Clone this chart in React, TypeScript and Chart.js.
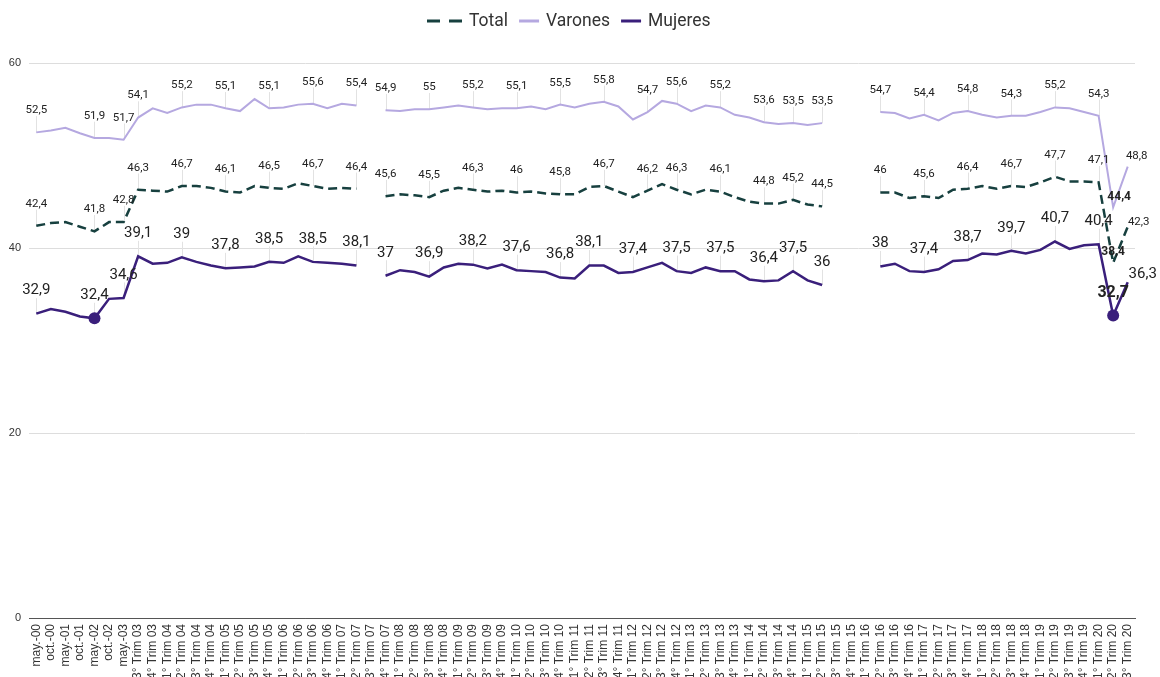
import React, { useEffect, useRef } from 'react';
import { Chart, registerables } from 'chart.js';

Chart.register(...registerables);

const categories = [
  'may.-00', 'oct.-00', 'may.-01', 'oct.-01', 'may.-02', 'oct.-02', 'may.-03',
  '3° Trim 03', '4° Trim 03',
  '1° Trim 04', '2° Trim 04', '3° Trim 04', '4° Trim 04',
  '1° Trim 05', '2° Trim 05', '3° Trim 05', '4° Trim 05',
  '1° Trim 06', '2° Trim 06', '3° Trim 06', '4° Trim 06',
  '1° Trim 07', '2° Trim 07', '3° Trim 07', '4° Trim 07',
  '1° Trim 08', '2° Trim 08', '3° Trim 08', '4° Trim 08',
  '1° Trim 09', '2° Trim 09', '3° Trim 09', '4° Trim 09',
  '1° Trim 10', '2° Trim 10', '3° Trim 10', '4° Trim 10',
  '1° Trim 11', '2° Trim 11', '3° Trim 11', '4° Trim 11',
  '1° Trim 12', '2° Trim 12', '3° Trim 12', '4° Trim 12',
  '1° Trim 13', '2° Trim 13', '3° Trim 13', '4° Trim 13',
  '1° Trim 14', '2° Trim 14', '3° Trim 14', '4° Trim 14',
  '1° Trim 15', '2° Trim 15', '3° Trim 15', '4° Trim 15',
  '1° Trim 16', '2° Trim 16', '3° Trim 16', '4° Trim 16',
  '1° Trim 17', '2° Trim 17', '3° Trim 17', '4° Trim 17',
  '1° Trim 18', '2° Trim 18', '3° Trim 18', '4° Trim 18',
  '1° Trim 19', '2° Trim 19', '3° Trim 19', '4° Trim 19',
  '1° Trim 20', '2° Trim 20', '3° Trim 20',
];

const total = [
  42.4, 42.7, 42.8, 42.3, 41.8, 42.8, 42.8,
  46.3, 46.2,
  46.1, 46.7, 46.7, 46.5,
  46.1, 46.0, 46.7, 46.5,
  46.4, 47.0, 46.7, 46.4,
  46.5, 46.4, null, 45.6,
  45.8, 45.7, 45.5, 46.2,
  46.5, 46.3, 46.1, 46.2,
  46.0, 46.1, 45.9, 45.8,
  45.8, 46.6, 46.7, 46.1,
  45.5, 46.2, 46.9, 46.3,
  45.8, 46.3, 46.1, 45.5,
  45.0, 44.8, 44.8, 45.2,
  44.7, 44.5, null, null,
  null, 46.0, 46.0, 45.4,
  45.6, 45.4, 46.3, 46.4,
  46.7, 46.4, 46.7, 46.6,
  47.1, 47.7, 47.2, 47.2,
  47.1, 38.4, 42.3,
];

const varones = [
  52.5, 52.7, 53.0, 52.4, 51.9, 51.9, 51.7,
  54.1, 55.1,
  54.6, 55.2, 55.5, 55.5,
  55.1, 54.8, 56.1, 55.1,
  55.2, 55.5, 55.6, 55.1,
  55.6, 55.4, null, 54.9,
  54.8, 55.0, 55.0, 55.2,
  55.4, 55.2, 55.0, 55.1,
  55.1, 55.3, 55.0, 55.5,
  55.2, 55.6, 55.8, 55.3,
  53.9, 54.7, 55.9, 55.6,
  54.8, 55.4, 55.2, 54.4,
  54.1, 53.6, 53.4, 53.5,
  53.3, 53.5, null, null,
  null, 54.7, 54.6, 54.0,
  54.4, 53.8, 54.6, 54.8,
  54.4, 54.1, 54.3, 54.3,
  54.7, 55.2, 55.1, 54.7,
  54.3, 44.4, 48.8,
];

const mujeres = [
  32.9, 33.4, 33.1, 32.6, 32.4, 34.5, 34.6,
  39.1, 38.3,
  38.4, 39.0, 38.5, 38.1,
  37.8, 37.9, 38.0, 38.5,
  38.4, 39.1, 38.5, 38.4,
  38.3, 38.1, null, 37.0,
  37.6, 37.4, 36.9, 37.9,
  38.3, 38.2, 37.8, 38.2,
  37.6, 37.5, 37.4, 36.8,
  36.7, 38.1, 38.1, 37.3,
  37.4, 37.9, 38.4, 37.5,
  37.3, 37.9, 37.5, 37.5,
  36.6, 36.4, 36.5, 37.5,
  36.5, 36.0, null, null,
  null, 38.0, 38.3, 37.5,
  37.4, 37.7, 38.6, 38.7,
  39.4, 39.3, 39.7, 39.4,
  39.8, 40.7, 39.9, 40.3,
  40.4, 32.7, 36.3,
];

const yTicks = [0, 20, 40, 60];

const totalLabelIdx = [0, 4, 6, 7, 10, 13, 16, 19, 22, 24, 27, 30, 33, 36, 39, 42, 44, 47, 50, 52, 54, 58, 61, 64, 67, 70, 73, 74, 75];
const varonesLabelIdx = [0, 4, 6, 7, 10, 13, 16, 19, 22, 24, 27, 30, 33, 36, 39, 42, 44, 47, 50, 52, 54, 58, 61, 64, 67, 70, 73, 74, 75];
const mujeresLabelIdx = [0, 4, 6, 7, 10, 13, 16, 19, 22, 24, 27, 30, 33, 36, 38, 41, 44, 47, 50, 52, 54, 58, 61, 64, 67, 70, 73, 74, 75];
const mujeresDotIdx = [4, 74];

const COLORS = {
  total: '#17403f',
  varones: '#b5a8e0',
  mujeres: '#3a1f7b',
  text: '#222222',
  leader: '#e2e2e2',
};

const fmt = (v: number) => String(v).replace('.', ',');

type Special = { dx: number; dy: number; size?: number; bold?: boolean; leader?: boolean };
type LabelSeries = {
  datasetIndex: number;
  indices: number[];
  size: number;
  offset: number;
  special: Record<number, Special>;
};

const labelSeries: LabelSeries[] = [
  {
    datasetIndex: 0,
    indices: totalLabelIdx,
    size: 11.5,
    offset: 22,
    special: {
      74: { dx: 0, dy: -11, size: 12, bold: true, leader: false },
      75: { dx: 11, dy: -5, leader: false },
    },
  },
  {
    datasetIndex: 1,
    indices: varonesLabelIdx,
    size: 11.5,
    offset: 22,
    special: {
      74: { dx: 6, dy: -10, size: 12, bold: true, leader: false },
      75: { dx: 9, dy: -10, leader: false },
    },
  },
  {
    datasetIndex: 2,
    indices: mujeresLabelIdx,
    size: 15,
    offset: 23,
    special: {
      74: { dx: 0, dy: -23, size: 16, bold: true, leader: false },
      75: { dx: 15, dy: -8, leader: false },
    },
  },
];

const pointLabelsPlugin = {
  id: 'pointLabels',
  beforeDatasetsDraw(chart: any) {
    const ctx = chart.ctx;
    ctx.save();
    ctx.strokeStyle = COLORS.leader;
    ctx.lineWidth = 1;
    ctx.setLineDash([]);
    for (const s of labelSeries) {
      const meta = chart.getDatasetMeta(s.datasetIndex);
      for (const i of s.indices) {
        const sp = s.special[i];
        if (sp && sp.leader === false) continue;
        const el = meta.data[i];
        if (!el || el.skip) continue;
        const x = Math.round(el.x) + 0.5;
        const y = el.y;
        const top = y - s.offset + s.size * 0.5;
        ctx.beginPath();
        ctx.moveTo(x, top);
        ctx.lineTo(x, y);
        ctx.stroke();
      }
    }
    ctx.restore();
  },
  afterDatasetsDraw(chart: any) {
    const ctx = chart.ctx;
    ctx.save();
    ctx.fillStyle = COLORS.text;
    ctx.textAlign = 'center';
    ctx.textBaseline = 'middle';
    for (const s of labelSeries) {
      const meta = chart.getDatasetMeta(s.datasetIndex);
      const data = chart.data.datasets[s.datasetIndex].data;
      for (const i of s.indices) {
        const el = meta.data[i];
        if (!el || el.skip || data[i] == null) continue;
        const sp = s.special[i];
        const size = sp && sp.size ? sp.size : s.size;
        const weight = sp && sp.bold ? 'bold ' : '';
        ctx.font = `${weight}${size}px Roboto`;
        const x = el.x + (sp ? sp.dx : 0);
        const y = el.y + (sp ? sp.dy : -s.offset);
        ctx.fillText(fmt(data[i]), x, y);
      }
    }
    ctx.restore();
  },
};

const legendPlugin = {
  id: 'customLegend',
  afterDraw(chart: any) {
    const ctx = chart.ctx;
    const items = [
      { text: 'Total', color: COLORS.total, dashed: true, w: 35 },
      { text: 'Varones', color: COLORS.varones, dashed: false, w: 20 },
      { text: 'Mujeres', color: COLORS.mujeres, dashed: false, w: 20 },
    ];
    ctx.save();
    ctx.font = '17.5px Roboto';
    ctx.textBaseline = 'middle';
    ctx.textAlign = 'left';
    let x = 427;
    const y = 21;
    for (const it of items) {
      ctx.strokeStyle = it.color;
      ctx.lineWidth = 3;
      ctx.beginPath();
      if (it.dashed) {
        ctx.moveTo(x, y);
        ctx.lineTo(x + 13, y);
        ctx.moveTo(x + 22, y);
        ctx.lineTo(x + 35, y);
      } else {
        ctx.moveTo(x, y);
        ctx.lineTo(x + it.w, y);
      }
      ctx.stroke();
      x += it.w + 7;
      ctx.fillStyle = '#333333';
      ctx.fillText(it.text, x, y + 1);
      x += ctx.measureText(it.text).width + 11;
    }
    ctx.restore();
  },
};

export default function App() {
  const canvasRef = useRef<HTMLCanvasElement | null>(null);

  useEffect(() => {
    if (!canvasRef.current) return;
    const chart = new Chart(canvasRef.current, {
      type: 'line',
      data: {
        labels: categories,
        datasets: [
          {
            label: 'Total',
            data: total,
            borderColor: COLORS.total,
            backgroundColor: COLORS.total,
            borderWidth: 2.5,
            borderDash: [9, 5],
            pointRadius: 0,
            tension: 0,
            spanGaps: false,
          },
          {
            label: 'Varones',
            data: varones,
            borderColor: COLORS.varones,
            backgroundColor: COLORS.varones,
            borderWidth: 2,
            pointRadius: 0,
            tension: 0,
            spanGaps: false,
          },
          {
            label: 'Mujeres',
            data: mujeres,
            borderColor: COLORS.mujeres,
            backgroundColor: COLORS.mujeres,
            borderWidth: 2.5,
            pointRadius: (c: any) => (mujeresDotIdx.includes(c.dataIndex) ? 6 : 0),
            pointBorderWidth: 0,
            tension: 0,
            spanGaps: false,
          },
        ],
      },
      options: {
        animation: false,
        responsive: true,
        maintainAspectRatio: false,
        events: [],
        layout: { padding: { top: 63, right: 25, left: 0, bottom: 0 } },
        plugins: {
          legend: { display: false },
          tooltip: { enabled: false },
        },
        scales: {
          x: {
            type: 'category',
            offset: true,
            grid: { display: false, drawTicks: false },
            border: { display: true, color: '#555555', width: 1 },
            ticks: {
              autoSkip: false,
              maxRotation: 90,
              minRotation: 90,
              padding: 6,
              color: '#333333',
              font: { family: 'Liberation Sans', size: 12 },
            },
            afterFit: (s: any) => {
              s.height = 59;
            },
          },
          y: {
            min: 0,
            max: 60,
            afterBuildTicks: (s: any) => {
              s.ticks = yTicks.map((v) => ({ value: v }));
            },
            grid: {
              drawTicks: false,
              color: (c: any) => (c.tick && c.tick.value === 0 ? '#555555' : '#dddddd'),
            },
            border: { display: false },
            ticks: {
              padding: 8,
              color: '#333333',
              font: { family: 'Liberation Sans', size: 11 },
            },
            afterFit: (s: any) => {
              s.width = 29;
            },
          },
        },
      },
      plugins: [pointLabelsPlugin, legendPlugin],
    });
    return () => chart.destroy();
  }, []);

  return (
    <div style={{ position: 'absolute', left: 0, top: 0, width: 1160, height: 677, background: '#ffffff' }}>
      <canvas ref={canvasRef} />
    </div>
  );
}
